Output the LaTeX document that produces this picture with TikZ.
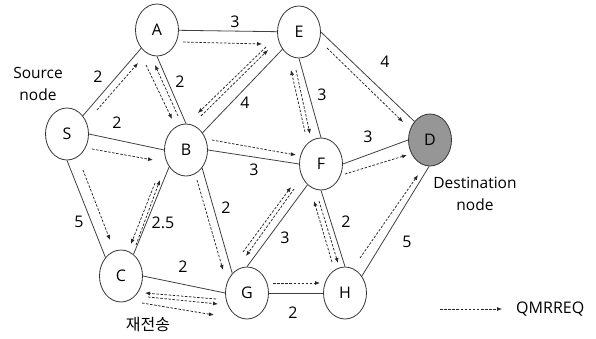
\documentclass[tikz,border=0pt]{standalone}
\usepackage{fontspec}
\setmainfont{Open Sans}
\newfontfamily\krfont{Noto Sans CJK KR}
\usetikzlibrary{shapes.geometric,arrows.meta,calc}
\definecolor{dgray}{RGB}{150,150,150}
\begin{document}
\begin{tikzpicture}[x=1pt,y=-1pt,
  nd/.style={ellipse,draw=black!80,line width=0.8pt,minimum width=43pt,minimum height=52pt,inner sep=0pt,font=\fontsize{16}{18}\selectfont,fill=white},
  ln/.style={draw=black!75,line width=0.8pt},
  qm/.style={draw=black!85,line width=0.75pt,dash pattern=on 2.5pt off 1.6pt,-{Latex[length=5pt,width=4pt]}},
  wt/.style={font=\fontsize{16}{18}\selectfont,inner sep=0pt},
  lb/.style={font=\fontsize{15.5}{22}\selectfont,align=center,inner sep=0pt}]
\useasboundingbox (0,0) rectangle (596,339);

% nodes
\node[nd] (S) at (67,134) {S};
\node[nd] (A) at (157,30) {A};
\node[nd] (E) at (299,32) {E};
\node[nd] (B) at (186,150) {B};
\node[nd] (F) at (321,164) {F};
\node[nd,fill=dgray] (D) at (430,140) {D};
\node[nd] (C) at (121,276) {C};
\node[nd] (G) at (247,293) {G};
\node[nd] (H) at (345,293) {H};

% solid links
\draw[ln] (S) -- (A);
\draw[ln] (S.east) -- (B.west);
\draw[ln] (S.south) -- (C.130);
\draw[ln] (A) -- (E);
\draw[ln] (A.south) -- (B.north);
\draw[ln] (B) -- (E);
\draw[ln] (B.east) -- (F.west);
\draw[ln] (B.225) -- (C.60);
\draw[ln] (B.-48) -- (G.127);
\draw[ln] (E.south) -- (F.north);
\draw[ln] (E.east) -- (D.130);
\draw[ln] (F.east) -- (D.west);
\draw[ln] (G.north) -- (F.237);
\draw[ln] (F.south) -- (H.north);
\draw[ln] (C.east) -- (G.west);
\draw[ln] (G.east) -- (H.west);
\draw[ln] (H.45) -- (D.-92);

% weights
\node[wt] (wSA) at (98,77) {2};
\node[wt] (wAB) at (180,82) {2};
\node[wt] (wSB) at (117,123) {2};
\node[wt] (wBE) at (245,103) {4};
\node[wt] (wAE) at (235,22) {3};
\node[wt] (wED) at (385,62) {4};
\node[wt] (wEF) at (322,95) {3};
\node[wt] (wFD) at (368,137) {3};
\node[wt] (wBF) at (254,170) {3};
\node[wt] (wSC) at (79,222) {5};
\node[wt] (wBC) at (163,223) {2.5};
\node[wt] (wBG) at (226,208) {2};
\node[wt] (wFG) at (285,238) {3};
\node[wt] (wCG) at (183,267) {2};
\node[wt] (wGH) at (293,313) {2};
\node[wt] (wFH) at (346,222) {2};
\node[wt] (wHD) at (407,242) {5};

% QMRREQ messages
\draw[qm] ($(S)+(30,-24)$) -- ($(A)+(-19,33)$);
\draw[qm] ($(S)+(25,15)$) -- ($(B)+(-33,10)$);
\draw[qm] ($(S)+(16,36)$) -- ($(C)+(-11,-36)$);
\draw[qm] ($(A)+(26,12)$) -- ($(E)+(-37,12)$);
\draw[qm] ($(A)+(-11,35)$) -- ($(B)+(-14,-31)$);
\draw[qm] ($(B)+(-8,-34)$) -- ($(A)+(-2,35)$);
\draw[qm] ($(E)+(-33,15)$) -- ($(B)+(12,-37)$);
\draw[qm] ($(B)+(15,-34)$) -- ($(E)+(-31,18)$);
\draw[qm] ($(B)+(26,-10)$) -- ($(F)+(-25,-9)$);
\draw[qm] ($(F)+(-16,-32)$) -- ($(E)+(-8,38)$);
\draw[qm] ($(E)+(-3,38)$) -- ($(F)+(-11,-30)$);
\draw[qm] ($(E)+(28,16)$) -- ($(D)+(-27,-18)$);
\draw[qm] ($(F)+(24,10)$) -- ($(D)+(-23,15)$);
\draw[qm] ($(B)+(-31,33)$) -- ($(C)+(10,-32)$);
\draw[qm] ($(C)+(15,-31)$) -- ($(B)+(-26,30)$);
\draw[qm] ($(B)+(11,30)$) -- ($(G)+(-24,-23)$);
\draw[qm] ($(G)+(-31,6)$) -- ($(C)+(24,17)$);
\draw[qm] ($(C)+(27,21)$) -- ($(G)+(-29,11)$);
\draw[qm] ($(C)+(21,27)$) -- ($(G)+(-33,22)$);
\draw[qm] ($(G)+(-4,-41)$) -- ($(F)+(-30,23)$);
\draw[qm] ($(F)+(-27,25)$) -- ($(G)+(-1,-37)$);
\draw[qm] ($(G)+(26,-10)$) -- ($(H)+(-25,-10)$);
\draw[qm] ($(H)+(-13,-31)$) -- ($(F)+(-7,37)$);
\draw[qm] ($(F)+(-2,37)$) -- ($(H)+(-7,-30)$);
\draw[qm] ($(H)+(15,-35)$) -- ($(D)+(-12,35)$);

% labels
\node[lb] (src) at (38,84) {Source\\node};
\node[lb] (dst) at (475,194) {Destination\\node};
\node[font=\krfont\fontsize{16}{18}\selectfont,inner sep=0pt] (re) at (148,325) {재전송};

% legend
\coordinate (l1) at (440,309);
\coordinate (l2) at (502,309);
\draw[qm] (l1) -- (l2);
\node[font=\fontsize{16}{18}\selectfont,anchor=west,inner sep=0pt] (leg) at (516,309) {QMRREQ};
\end{tikzpicture}
\end{document}
